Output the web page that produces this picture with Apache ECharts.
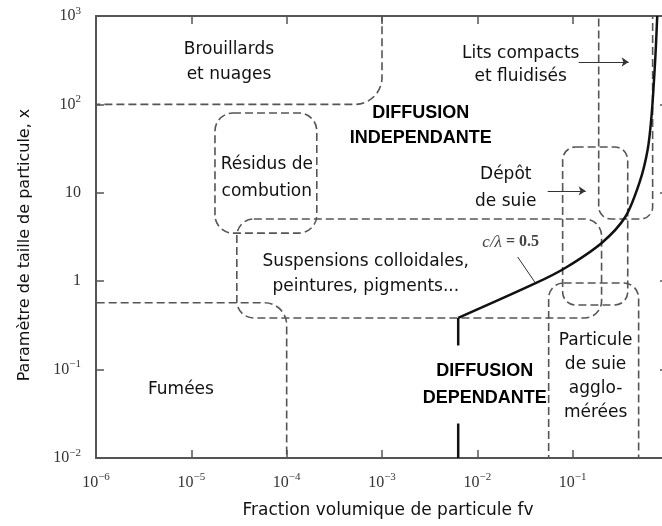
<!DOCTYPE html>
<html><head><meta charset="utf-8">
<script src="https://cdn.jsdelivr.net/npm/echarts@6/dist/echarts.min.js"></script>
<style>html,body{margin:0;padding:0;background:#fff}#c{width:662px;height:526px}</style>
</head><body><div id="c"></div>
<script>
// ---- axes ----
const xRange = [1e-6, 1];
const yRange = [1e-2, 1e3];
const xAxisTitle = 'Fraction volumique de particule fv';
const yAxisTitle = 'Paramètre de taille de particule, x';

// ---- regions (dashed rounded boxes), data coordinates ----
const regionNames = ['Brouillards', 'Résidus', 'Suspensions', 'Fumées', 'Lits', 'Dépôt', 'Particule'];
const regionX0 = [1e-7, 1.77e-5, 3.0e-5, 1e-7, 0.1875, 0.0785, 0.056];
const regionX1 = [1e-3, 2.07e-4, 0.201, 1.0e-4, 0.69, 0.378, 0.492];
const regionY0 = [100, 3.5, 0.384, 1e-3, 5.06, 0.538, 1e-3];
const regionY1 = [1e4, 80, 5.06, 0.57, 1e4, 33, 0.955];

// ---- boundary c/λ = 0.5 ----
const baseX = [0.0063, 0.0063];
const baseY = [0.01, 0.384];
const boundaryX = [0.0063, 0.0414, 0.0834, 0.2015, 0.356, 0.504, 0.611, 0.673, 0.734, 0.771];
const boundaryY = [0.384, 0.955, 1.41, 2.71, 5.32, 13.2, 30.5, 75.9, 318, 1000];

// ---- arrows and leader ----
const arrowStartX = [0.1156, 0.0547];
const arrowEndX = [0.386, 0.137];
const arrowY = [302, 10.5];
const leaderX = [0.0265, 0.040];
const leaderY = [1.88, 0.98];

// ---- texts ----
const labelTexts = [
  'Brouillards\net nuages',
  'DIFFUSION\nINDEPENDANTE',
  'Résidus de\ncombution',
  'Lits compacts\net fluidisés',
  'Dépôt\nde suie',
  'Suspensions colloidales,\npeintures, pigments...',
  'Fumées',
  'DIFFUSION\nDEPENDANTE',
  'Particule\nde suie\nagglo-\nmérées',
  '{i|c/λ}{n| = 0.5}'
];
const labelX = [2.48e-5, 2.55e-3, 6.19e-5, 0.0285, 0.01986, 6.76e-4, 7.78e-6, 0.01197, 0.174, 0.0224];
const labelY = [298, 57.7, 14.5, 282, 11.2, 1.19, 0.0587, 0.0678, 0.0836, 2.77];
const labelKinds = ['plain', 'bold', 'plain', 'plain', 'plain', 'plain', 'plain', 'boldBg', 'plain', 'formula'];

// ---- styles (kept apart from data) ----
const cornerRadius = {
  'Brouillards': [0, 0, 27, 0], 'Résidus': 18, 'Suspensions': 17, 'Fumées': [0, 22, 0, 0],
  'Lits': 12, 'Dépôt': 13, 'Particule': 15
};
const labelLineHeight = [25, 25, 27, 23, 27, 25, 20, 27, 24, 20];
const dashColor = '#555';
const sans = '"DejaVu Sans", sans-serif';
const serif = '"Liberation Serif", "DejaVu Serif", serif';

function expLabel(v, hideZero) {
  const e = Math.round(Math.log10(v));
  if (e >= 0 && hideZero) return '';
  if (e === 0) return '{b|1}';
  if (e === 1) return '{b|10}';
  return '{b|10}{s|' + (e < 0 ? '\u2212' : '') + Math.abs(e) + '}';
}
const richNum = {
  b: { fontFamily: serif, fontSize: 16, color: '#333', lineHeight: 21 },
  s: { fontFamily: serif, fontSize: 11, color: '#333', verticalAlign: 'top', lineHeight: 12 }
};
const axisLine = { show: true, lineStyle: { color: '#555', width: 2 } };
const axisTick = { show: true, inside: true, length: 8, lineStyle: { color: '#555', width: 1.5 } };

const chart = echarts.init(document.getElementById('c'), null, { renderer: 'canvas' });

const regionData = regionNames.map((n, i) => ({ name: n, value: [regionX0[i], regionX1[i], regionY0[i], regionY1[i]] }));
const textData = labelTexts.map((t, i) => [labelX[i], labelY[i], i]);

const option = {
  backgroundColor: '#fff',
  animation: false,
  grid: { left: 96, top: 16, width: 572, height: 442, outerBoundsMode: 'none', containLabel: false },
  xAxis: [
    {
      type: 'log', logBase: 10, min: xRange[0], max: xRange[1], position: 'bottom',
      axisLine, axisTick, splitLine: { show: false }, minorTick: { show: false },
      axisLabel: { margin: 14, fontFamily: serif, fontSize: 16, color: '#333', formatter: v => expLabel(v, true), rich: richNum },
      name: xAxisTitle, nameLocation: 'middle', nameGap: 44,
      nameTextStyle: { fontFamily: sans, fontSize: 17, color: '#111', padding: [0, 0, 0, 12] }
    },
    {
      type: 'log', logBase: 10, min: xRange[0], max: xRange[1], position: 'top',
      axisLine, axisTick, splitLine: { show: false }, axisLabel: { show: false }
    }
  ],
  yAxis: [
    {
      type: 'log', logBase: 10, min: yRange[0], max: yRange[1], position: 'left',
      axisLine, axisTick, splitLine: { show: false },
      axisLabel: { margin: 15, fontFamily: serif, fontSize: 16, color: '#333', formatter: v => expLabel(v, false), rich: richNum },
      name: yAxisTitle, nameLocation: 'middle', nameGap: 63, nameRotate: 90,
      nameTextStyle: { fontFamily: sans, fontSize: 16, color: '#111', padding: [0, 16, 0, 0] }
    },
    {
      type: 'log', logBase: 10, min: yRange[0], max: yRange[1], position: 'right',
      axisLine, axisTick, splitLine: { show: false }, axisLabel: { show: false }
    }
  ],
  series: [
    {
      type: 'custom', name: 'regions', clip: true, z: 2,
      encode: { x: [0, 1], y: [2, 3] },
      data: regionData,
      renderItem: function (params, api) {
        const p0 = api.coord([api.value(0), api.value(2)]);
        const p1 = api.coord([api.value(1), api.value(3)]);
        const name = regionNames[params.dataIndex];
        return {
          type: 'rect',
          shape: {
            x: Math.min(p0[0], p1[0]), y: Math.min(p0[1], p1[1]),
            width: Math.abs(p1[0] - p0[0]), height: Math.abs(p1[1] - p0[1]),
            r: cornerRadius[name]
          },
          style: { fill: 'none', stroke: dashColor, lineWidth: 1.6, lineDash: [8, 4] }
        };
      }
    },
    {
      type: 'line', name: 'base', z: 3, symbol: 'none', silent: true,
      data: baseX.map((x, i) => [x, baseY[i]]),
      lineStyle: { color: '#111', width: 2.5 }
    },
    {
      type: 'line', name: 'c/λ = 0.5', z: 3, symbol: 'none', silent: true, smooth: 0.3,
      data: boundaryX.map((x, i) => [x, boundaryY[i]]),
      lineStyle: { color: '#111', width: 2.5 }
    },
    {
      type: 'lines', coordinateSystem: 'cartesian2d', z: 3, silent: true,
      symbol: ['none', 'arrow'], symbolSize: 7,
      lineStyle: { color: '#333', width: 1, opacity: 1 },
      data: arrowY.map((y, i) => ({ coords: [[arrowStartX[i], y], [arrowEndX[i], y]] }))
    },
    {
      type: 'lines', coordinateSystem: 'cartesian2d', z: 3, silent: true,
      symbol: ['none', 'none'],
      lineStyle: { color: '#333', width: 1, opacity: 1 },
      data: [{ coords: [[leaderX[0], leaderY[0]], [leaderX[1], leaderY[1]]] }]
    },
    {
      type: 'custom', name: 'texts', z: 5, silent: true,
      encode: { x: 0, y: 1 },
      data: textData,
      renderItem: function (params, api) {
        const p = api.coord([api.value(0), api.value(1)]);
        const i = params.dataIndex;
        const kind = labelKinds[i];
        const style = {
          text: labelTexts[i], fill: '#111', align: 'center', verticalAlign: 'middle',
          lineHeight: labelLineHeight[i], fontFamily: sans, fontSize: 17
        };
        if (kind === 'bold' || kind === 'boldBg') {
          style.fontFamily = '"Liberation Sans", Arial, sans-serif';
          style.fontWeight = 'bold';
          style.fontSize = 18;
          style.fill = '#000';
        }
        if (kind === 'boldBg') {
          style.backgroundColor = '#fff';
          style.padding = [12, 0];
        }
        if (kind === 'formula') {
          style.rich = {
            i: { fontFamily: serif, fontStyle: 'italic', fontSize: 17, fill: '#444', color: '#444' },
            n: { fontFamily: serif, fontWeight: 'bold', fontSize: 16, fill: '#444', color: '#444' }
          };
        }
        return { type: 'text', x: p[0], y: p[1], style };
      }
    }
  ]
};
chart.setOption(option);
</script>
</body></html>
